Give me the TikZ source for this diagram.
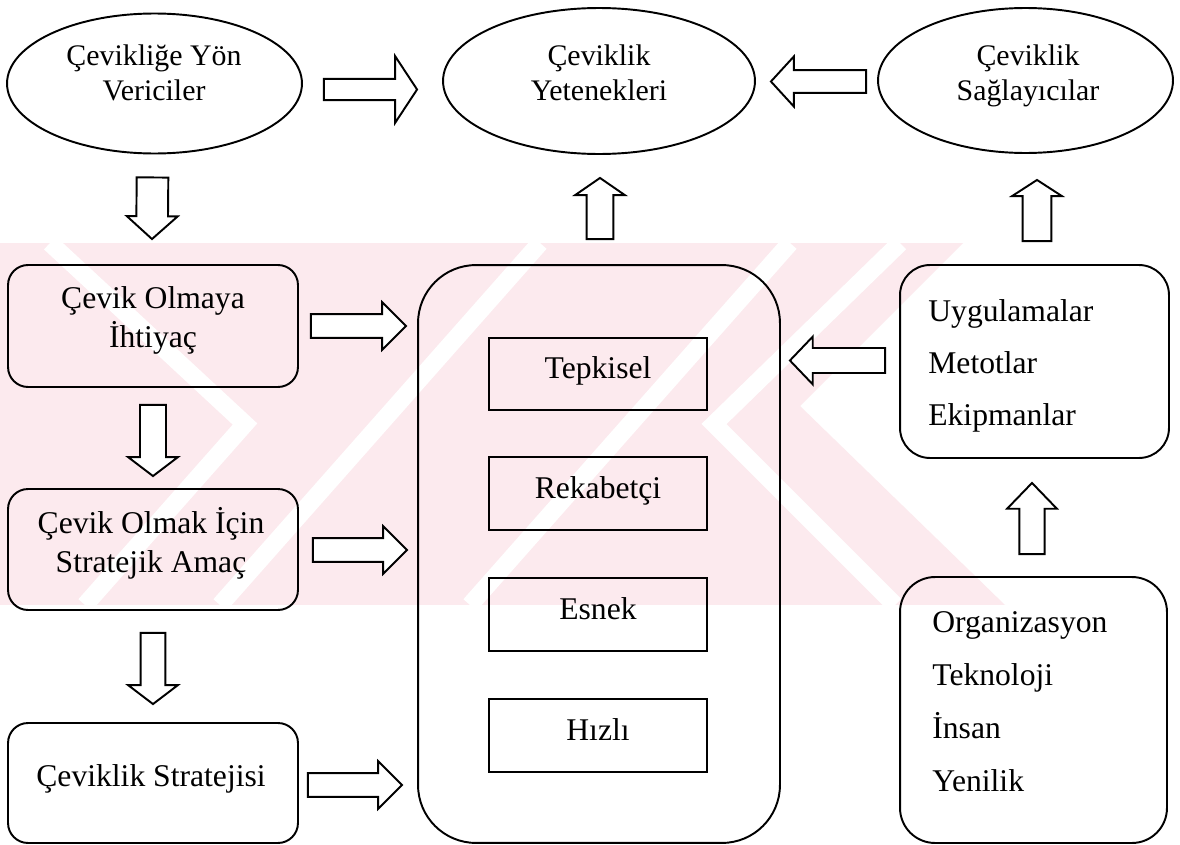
\documentclass[tikz,border=0pt]{standalone}
\usepackage{fontspec}
\setmainfont{Liberation Serif}
\usetikzlibrary{calc,shapes.geometric}

\definecolor{wmpink}{RGB}{252,234,238}

% Outlined block arrow: shaft half-width, head half-width, head length, from, to
\newcommand{\blockarr}[5]{%
  \draw[barrow] let \p1=(#4), \p2=(#5), \n1={atan2(\y2-\y1,\x2-\x1)} in
    ($(\p1)+(\n1+90:#1)$) --
    ($(\p2)+(\n1+180:#3)+(\n1+90:#1)$) --
    ($(\p2)+(\n1+180:#3)+(\n1+90:#2)$) --
    (\p2) --
    ($(\p2)+(\n1+180:#3)+(\n1-90:#2)$) --
    ($(\p2)+(\n1+180:#3)+(\n1-90:#1)$) --
    ($(\p1)+(\n1-90:#1)$) -- cycle;}

\begin{document}
\begin{tikzpicture}[x=0.02cm,y=-0.02cm,
  outline/.style={draw=black,line width=1.1pt},
  ell/.style={outline,ellipse,inner sep=0pt},
  rbox/.style={outline,rectangle,rounded corners=#1,inner sep=0pt},
  sbox/.style={outline,rectangle,inner sep=0pt,minimum width=4.36cm,minimum height=1.45cm},
  barrow/.style={outline,fill=white,line join=miter},
  ctext/.style={align=center,inner sep=0pt,anchor=base,font=\fontsize{18}{22}\selectfont},
  etext/.style={align=center,inner sep=0pt,anchor=base,font=\fontsize{17}{19.8}\selectfont},
  ltext/.style={align=left,inner sep=0pt,anchor=base west,font=\fontsize{18}{29.5}\selectfont},
  gap/.style={white,line width=10pt,line join=miter},
]
\useasboundingbox (0,0) rectangle (1180,845);
\fill[white] (0,0) rectangle (1180,845);

% faint background watermark band
\begin{scope}
  \clip (0,243) -- (963,243) -- (800,406) -- (1005,605) -- (0,605) -- cycle;
  \fill[wmpink] (0,243) rectangle (1010,605);
  \draw[gap] (50,243) -- (245,424) -- (85,605);
  \draw[gap] (220,605) -- (540,243);
  \draw[gap] (470,605) -- (790,243);
  \draw[gap] (900,243) -- (714,424) -- (895,605);
\end{scope}

% top row: ellipses
\node[ell,minimum width=5.9cm,minimum height=2.8cm] (e1) at (154.5,83.5) {};
\node[ell,minimum width=6.24cm,minimum height=2.92cm] (e2) at (599,81) {};
\node[ell,minimum width=5.9cm,minimum height=2.9cm] (e3) at (1025.5,80.5) {};
\node[etext] (e1t) at (154,100) {Çevikliğe Yön\\Vericiler};
\node[etext] (e2t) at (599,100) {Çeviklik\\Yetenekleri};
\node[etext] (e3t) at (1028,100) {Çeviklik\\Sağlayıcılar};

% left column
\node[rbox=0.4cm,minimum width=5.8cm,minimum height=2.44cm] (b1) at (153,326) {};
\node[rbox=0.4cm,minimum width=5.8cm,minimum height=2.42cm] (b2) at (153,549.5) {};
\node[rbox=0.4cm,minimum width=5.8cm,minimum height=2.4cm] (b3) at (153,783) {};
\node[ctext] (b1t) at (153,347) {Çevik Olmaya\\İhtiyaç};
\node[ctext] (b2t) at (151,572) {Çevik Olmak İçin\\Stratejik Amaç};
\node[ctext] (b3t) at (151,786) {Çeviklik Stratejisi};

% centre column
\node[rbox=1.16cm,minimum width=7.24cm,minimum height=11.56cm] (c) at (599,554) {};
\node[sbox] (r1) at (598,374) {};
\node[sbox] (r2) at (598,493.5) {};
\node[sbox] (r3) at (598,614.5) {};
\node[sbox] (r4) at (598,735.5) {};
\node[ctext] (r1t) at (598,378) {Tepkisel};
\node[ctext] (r2t) at (598,498) {Rekabetçi};
\node[ctext] (r3t) at (598,619) {Esnek};
\node[ctext] (r4t) at (598,740) {Hızlı};

% right column
\node[rbox=0.6cm,minimum width=5.38cm,minimum height=3.86cm] (d1) at (1034.5,361.5) {};
\node[rbox=0.7cm,minimum width=5.34cm,minimum height=5.32cm] (d2) at (1033.5,710) {};
\node[ltext] (d1t) at (928,425) {Uygulamalar\\Metotlar\\Ekipmanlar};
\node[ltext,font=\fontsize{18}{30}\selectfont] (d2t) at (932,791) {Organizasyon\\Teknoloji\\İnsan\\Yenilik};

% arrow end points, placed against the shapes they join
\coordinate (a1s) at ($(e1.east)+(21,6)$);
\coordinate (a1e) at ($(e2.west)+(-25,8.5)$);
\coordinate (a2s) at ($(e3.west)+(-11,1)$);
\coordinate (a2e) at ($(e2.east)+(15,0.5)$);
\coordinate (a3s) at ($(e1.south)+(-2,23)$);
\coordinate (a3e) at ($(b1.north)+(-1,-25)$);
\coordinate (a4s) at ($(b1.south)+(0,17)$);
\coordinate (a4e) at ($(b2.north)+(0,-12)$);
\coordinate (a5s) at ($(b2.south)+(0,22)$);
\coordinate (a5e) at ($(b3.north)+(0,-18)$);
\coordinate (a6s) at ($(c.north)+(1,-25)$);
\coordinate (a6e) at ($(e2.south)+(1,23)$);
\coordinate (a7s) at ($(d1.north)+(2.5,-23)$);
\coordinate (a7e) at ($(e3.south)+(11.5,26)$);
\coordinate (a8s) at ($(d2.north)+(-1.5,-22)$);
\coordinate (a8e) at ($(d1.south)+(-2.5,24)$);
\coordinate (a9s) at ($(b1.east)+(12,0)$);
\coordinate (a10s) at ($(b2.east)+(14,0.5)$);
\coordinate (a11s) at ($(b3.east)+(9,2)$);
\coordinate (a12s) at ($(d1.west)+(-14,-1)$);
\coordinate (a9e) at ($(a9s-|c.west)+(-11,0)$);
\coordinate (a10e) at ($(a10s-|c.west)+(-10,0)$);
\coordinate (a11e) at ($(a11s-|c.west)+(-15,0)$);
\coordinate (a12e) at ($(a12s-|c.east)+(9,0)$);

% connectors
\blockarr{6pt}{19pt}{12.5pt}{a1s}{a1e}
\blockarr{6.5pt}{14.2pt}{13pt}{a2s}{a2e}
\blockarr{9pt}{14.5pt}{13pt}{a3s}{a3e}
\blockarr{7.4pt}{14.2pt}{10.8pt}{a4s}{a4e}
\blockarr{7pt}{14.2pt}{10.8pt}{a5s}{a5e}
\blockarr{7.6pt}{14.2pt}{9.8pt}{a6s}{a6e}
\blockarr{8.2pt}{14.2pt}{9.2pt}{a7s}{a7e}
\blockarr{7.2pt}{14.2pt}{14.7pt}{a8s}{a8e}
\blockarr{6.8pt}{13.6pt}{13.6pt}{a9s}{a9e}
\blockarr{6.8pt}{13.6pt}{13.6pt}{a10s}{a10e}
\blockarr{6.8pt}{13.6pt}{13.6pt}{a11s}{a11e}
\blockarr{7.1pt}{13.6pt}{13pt}{a12s}{a12e}
\end{tikzpicture}
\end{document}
